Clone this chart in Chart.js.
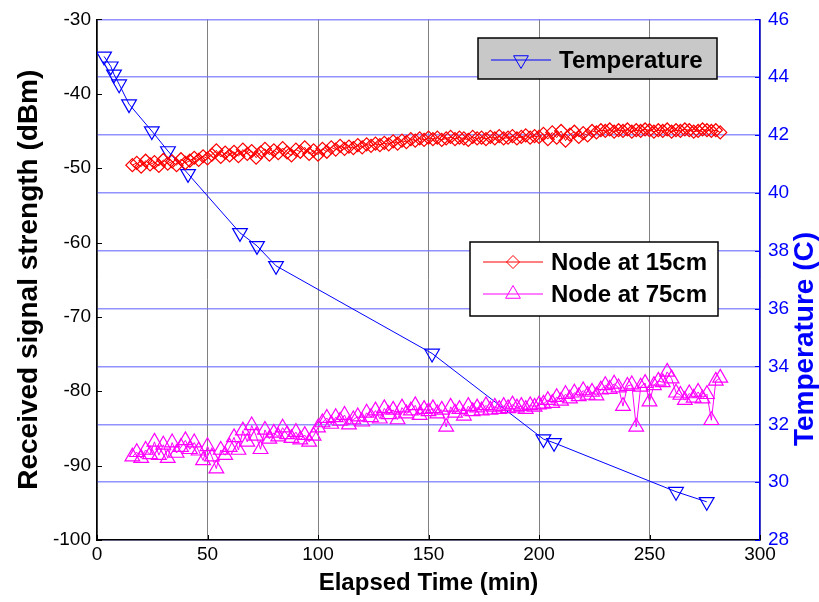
<!DOCTYPE html>
<html>
<head>
<meta charset="utf-8">
<script src="https://cdn.jsdelivr.net/npm/chart.js@4.4.1/dist/chart.umd.min.js"></script>
<style>
  html, body { margin: 0; padding: 0; background: #ffffff; }
  #wrap { width: 819px; height: 602px; }
</style>
</head>
<body>
<div id="wrap"><canvas id="c" width="819" height="602"></canvas></div>
<script>
// Elapsed time of each RSSI sample (min)
const nodeTimes = [
  16, 18, 20, 22, 24, 26, 28, 30, 32, 34, 36, 38, 40, 42, 44, 46, 48, 50, 52, 54,
  56, 58, 60, 62, 64, 66, 68, 70, 72, 74, 76, 78, 80, 82, 84, 86, 88, 90, 92, 94,
  96, 98, 100, 102, 104, 106, 108, 110, 112, 114, 116, 118, 120, 122, 124, 126, 128, 130, 132, 134,
  136, 138, 140, 142, 144, 146, 148, 150, 152, 154, 156, 158, 160, 162, 164, 166, 168, 170, 172, 174,
  176, 178, 180, 182, 184, 186, 188, 190, 192, 194, 196, 198, 200, 202, 204, 206, 208, 210, 212, 214,
  216, 218, 220, 222, 224, 226, 228, 230, 232, 234, 236, 238, 240, 242, 244, 246, 248, 250, 252, 254,
  256, 258, 260, 262, 264, 266, 268, 270, 272, 274, 276, 278, 280, 282
];

// Received signal strength (dBm), node at 15 cm
const node15cm = [
  -49.6, -49.3, -49.8, -49.0, -49.5, -49.2, -49.7, -48.9, -49.4, -49.1, -49.6, -48.8, -49.3, -49.0, -48.6,
  -48.9, -48.4, -48.7, -48.2, -47.6, -48.5, -47.9, -48.3,
  -47.8, -48.4, -47.5, -48.1, -47.7, -48.6, -47.9, -47.4, -48.2, -47.6, -48.0, -47.3, -47.9, -48.3, -47.5, -47.8, -47.2, -48.1, -47.6, -48.2,
  -47.4, -47.8, -47.2, -47.5, -47.0, -47.4, -47.1, -47.3, -46.9, -47.2, -46.8, -47.0, -46.7, -46.9, -46.6, -46.8, -46.4, -46.7, -46.3, -46.5, -46.1, -46.3, -46.0, -46.2, -45.9,
  -46.1, -45.9, -46.2, -46.0, -45.8, -46.1, -45.9, -46.0, -46.2, -45.8, -46.0, -45.9, -46.1, -45.8, -46.0, -45.7, -46.0, -45.9, -45.7, -46.0, -45.8, -45.6, -45.9, -45.7, -45.8,
  -45.4, -46.1, -45.2, -45.9, -45.0, -46.3, -45.5, -45.1, -45.8, -45.3, -45.6, -45.0, -45.2,
  -44.9, -45.0, -44.8, -45.1, -44.9, -45.0, -44.8, -45.1, -44.9, -45.0, -44.8, -44.9, -45.1, -44.9, -45.0, -44.8, -45.1, -44.9, -45.0, -44.8, -44.9, -45.1, -45.0, -44.8, -44.9, -45.0, -44.9, -45.2
];

// Received signal strength (dBm), node at 75 cm
const node75cm = [
  -88.8, -88.2, -89.0, -87.9, -88.5, -86.8, -88.6,
  -87.2, -89.0, -86.9, -88.3, -87.5, -86.6, -87.8, -86.9,
  -88.0, -89.3, -87.4, -88.8, -90.4, -87.9, -88.6,
  -87.5, -86.2, -87.9, -85.3, -86.8, -84.6, -86.0, -87.8,
  -85.2, -86.4, -85.6, -86.1, -84.9, -85.8, -86.3, -85.5,
  -86.5, -85.9, -86.8, -86.0, -84.9,
  -84.2, -83.6, -84.4, -83.5, -84.0, -83.2, -84.5, -83.8, -83.4, -84.1,
  -82.9, -83.5, -82.6, -83.7, -82.3, -83.1, -82.5, -83.8, -82.2, -83.0, -82.6, -81.9, -83.2, -82.4, -82.7,
  -82.3, -83.0, -82.5, -84.8, -82.1, -82.9, -82.4, -83.3, -82.0, -82.7, -82.2, -82.6, -81.9, -82.5, -82.1, -82.4, -82.0, -82.3, -81.8, -82.2, -82.0, -82.4, -81.9, -82.1, -81.8,
  -81.7, -81.2, -81.6, -80.8, -81.3, -80.4, -81.0, -80.2, -80.7, -79.9, -80.5, -80.1, -80.6, -79.8,
  -79.2, -79.7, -79.0, -79.5, -82.0, -79.3, -79.1, -84.8, -79.4, -78.9, -81.4, -79.2, -78.6,
  -78.8, -77.4, -78.3, -80.2,
  -80.5, -81.2, -80.3, -80.9, -80.1, -81.0, -80.4, -83.9, -78.6, -78.2
];

// Temperature log (min, °C)
const temperatureTimes = [3.2, 6.2, 7.7, 10, 14.5, 24.8, 32.1, 41.2, 64.7, 72.4, 81, 151.6, 202, 206.8, 262, 275.9];
const temperatureValues = [44.72, 44.38, 44.10, 43.76, 43.07, 42.14, 41.45, 40.66, 38.62, 38.17, 37.48, 34.45, 31.49, 31.36, 29.67, 29.32];

// Axis ticks
const timeTicks = [0, 50, 100, 150, 200, 250, 300];
const rssiTicks = [-100, -90, -80, -70, -60, -50, -40, -30];
const tempTicks = [28, 30, 32, 34, 36, 38, 40, 42, 44, 46];

const RED = '#ff0000';
const MAGENTA = '#ff00ff';
const BLUE = '#0000ff';
const FONT = '"Liberation Sans", Arial, Helvetica, sans-serif';

const toPoints = (xs, ys) => xs.map((x, i) => ({ x: x, y: ys[i] }));

const datasets = [
  {
    label: 'Node at 15cm',
    data: toPoints(nodeTimes, node15cm),
    yAxisID: 'y',
    borderColor: RED,
    borderWidth: 1,
    pointStyle: 'rectRot',
    pointRadius: 6.5,
    pointBorderWidth: 1.2,
    pointBorderColor: RED,
    pointBackgroundColor: 'rgba(0,0,0,0)',
    tension: 0
  },
  {
    label: 'Node at 75cm',
    data: toPoints(nodeTimes, node75cm),
    yAxisID: 'y',
    borderColor: MAGENTA,
    borderWidth: 1,
    pointStyle: 'triangle',
    pointRadius: 8.5,
    pointBorderWidth: 1.2,
    pointBorderColor: MAGENTA,
    pointBackgroundColor: 'rgba(0,0,0,0)',
    tension: 0
  },
  {
    label: 'Temperature',
    data: toPoints(temperatureTimes, temperatureValues),
    yAxisID: 'y2',
    borderColor: BLUE,
    borderWidth: 1,
    pointStyle: 'triangle',
    pointRotation: 180,
    pointRadius: 8.5,
    pointBorderWidth: 1.2,
    pointBorderColor: BLUE,
    pointBackgroundColor: 'rgba(0,0,0,0)',
    tension: 0
  }
];

// Inward tick marks on the box edges
const boxTicks = {
  id: 'boxTicks',
  afterDatasetsDraw(chart) {
    const { ctx, chartArea: a, scales } = chart;
    ctx.save();
    ctx.lineWidth = 1;
    ctx.strokeStyle = '#000000';
    ctx.beginPath();
    rssiTicks.forEach(v => {
      const y = Math.round(scales.y.getPixelForValue(v)) + 0.5;
      ctx.moveTo(a.left, y); ctx.lineTo(a.left + 5, y);
    });
    timeTicks.forEach(v => {
      const x = Math.round(scales.x.getPixelForValue(v)) + 0.5;
      ctx.moveTo(x, a.bottom); ctx.lineTo(x, a.bottom - 5);
    });
    ctx.stroke();
    ctx.strokeStyle = BLUE;
    ctx.beginPath();
    tempTicks.forEach(v => {
      const y = Math.round(scales.y2.getPixelForValue(v)) + 0.5;
      ctx.moveTo(a.right, y); ctx.lineTo(a.right - 5, y);
    });
    ctx.stroke();
    ctx.restore();
  }
};

// Right axis title, read bottom-to-top like the left one
const rightTitle = {
  id: 'rightTitle',
  afterDraw(chart, args, opts) {
    const { ctx } = chart;
    ctx.save();
    ctx.translate(opts.x, opts.y);
    ctx.rotate(-Math.PI / 2);
    ctx.fillStyle = BLUE;
    ctx.font = 'bold 28px ' + FONT;
    ctx.textAlign = 'center';
    ctx.textBaseline = 'middle';
    ctx.fillText(opts.text, 0, 0);
    ctx.restore();
  }
};

// Two boxed legends drawn inside the plot area
const boxedLegends = {
  id: 'boxedLegends',
  afterDraw(chart, args, opts) {
    const { ctx } = chart;
    const ds = chart.data.datasets;
    const drawEntry = (d, x0, x1, y, tx) => {
      ctx.strokeStyle = d.borderColor;
      ctx.lineWidth = 1;
      ctx.beginPath();
      ctx.moveTo(x0, y); ctx.lineTo(x1, y);
      ctx.stroke();
      ctx.fillStyle = 'rgba(0,0,0,0)';
      Chart.helpers.drawPoint(ctx, {
        pointStyle: d.pointStyle,
        rotation: d.pointRotation || 0,
        radius: d.pointRadius,
        borderWidth: 1
      }, (x0 + x1) / 2, y);
      ctx.fillStyle = '#000000';
      ctx.font = 'bold 24px ' + FONT;
      ctx.textAlign = 'left';
      ctx.textBaseline = 'middle';
      ctx.fillText(d.label, tx, y + 1);
    };
    ctx.save();
    opts.boxes.forEach(b => {
      ctx.fillStyle = b.fill;
      ctx.fillRect(b.x, b.y, b.w, b.h);
      ctx.strokeStyle = '#000000';
      ctx.lineWidth = 1.5;
      ctx.strokeRect(b.x, b.y, b.w, b.h);
      b.items.forEach((idx, i) => {
        drawEntry(ds[idx], b.x + 13, b.x + 73, b.y + b.first + i * b.step, b.x + 81);
      });
    });
    ctx.restore();
  }
};

new Chart(document.getElementById('c'), {
  type: 'line',
  data: { datasets: datasets },
  plugins: [boxTicks, boxedLegends, rightTitle],
  options: {
    responsive: false,
    animation: false,
    events: [],
    layout: { padding: { top: 18, left: 0, right: 0, bottom: 0 } },
    plugins: {
      legend: { display: false },
      tooltip: { enabled: false },
      rightTitle: { text: 'Temperature (C)', x: 805, y: 339 },
      boxedLegends: {
        boxes: [
          { x: 478, y: 38, w: 239, h: 41, fill: '#c8c8c8', items: [2], first: 22, step: 0 },
          { x: 470, y: 242, w: 248, h: 74, fill: '#ffffff', items: [0, 1], first: 20, step: 32 }
        ]
      }
    },
    scales: {
      x: {
        type: 'linear',
        min: 0, max: 300,
        afterFit: s => { s.height = 62; },
        afterBuildTicks: s => { s.ticks = timeTicks.map(v => ({ value: v })); },
        ticks: { color: '#000000', font: { family: FONT, size: 19 }, padding: 3, maxRotation: 0 },
        grid: { color: '#808080', lineWidth: 1, drawTicks: false },
        border: { color: '#000000', width: 1.5 },
        title: { display: true, text: 'Elapsed Time (min)', color: '#000000',
                 font: { family: FONT, size: 24, weight: 'bold', lineHeight: 1 },
                 padding: { top: 0, bottom: 7 } }
      },
      y: {
        type: 'linear',
        position: 'left',
        min: -100, max: -30,
        afterFit: s => { s.width = 97; },
        afterBuildTicks: s => { s.ticks = rssiTicks.map(v => ({ value: v })); },
        ticks: { color: '#000000', font: { family: FONT, size: 19 }, padding: 6 },
        grid: { drawOnChartArea: false, drawTicks: false },
        border: { color: '#000000', width: 1.5 },
        title: { display: true, text: 'Received signal strength (dBm)', color: '#000000',
                 font: { family: FONT, size: 28, weight: 'bold', lineHeight: 1 },
                 padding: { top: 15, bottom: 0 } }
      },
      y2: {
        type: 'linear',
        position: 'right',
        min: 28, max: 46,
        afterFit: s => { s.width = 59; },
        afterBuildTicks: s => { s.ticks = tempTicks.map(v => ({ value: v })); },
        ticks: { color: BLUE, font: { family: FONT, size: 19 }, padding: 8 },
        grid: { color: 'rgba(110,110,255,0.75)', lineWidth: 1.5, drawTicks: false },
        border: { color: BLUE, width: 1.5 },
        title: { display: false }
      }
    }
  }
});
</script>
</body>
</html>
